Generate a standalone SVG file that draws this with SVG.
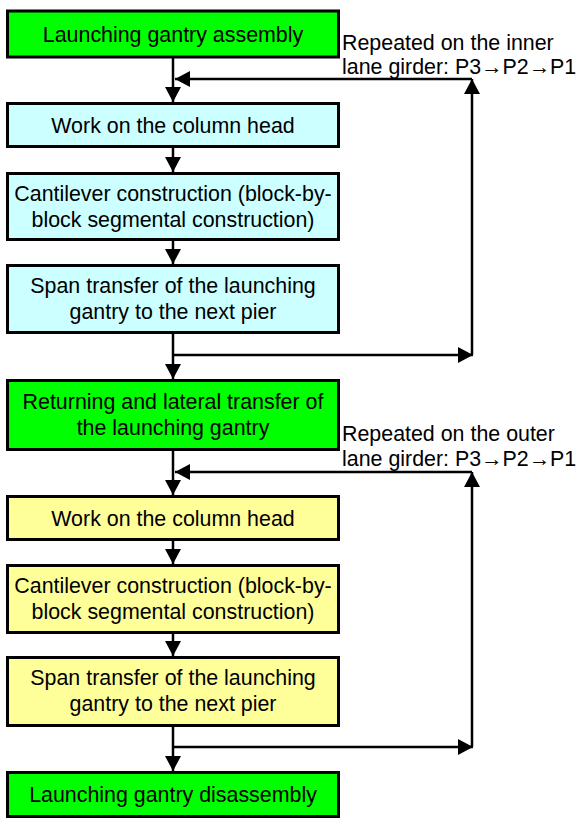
<svg xmlns="http://www.w3.org/2000/svg" width="577" height="819" viewBox="0 0 577 819">
  <style>
    .box { stroke: #000; stroke-width: 3; }
    .green { fill: #00ff00; }
    .cyan { fill: #ccffff; }
    .yellow { fill: #ffff99; }
    text { font-family: "Liberation Sans", Arial, "DejaVu Sans", sans-serif; font-size: 21.4px; fill: #000; }
    .c { text-anchor: middle; }
    .flow { fill: none; stroke: #000; stroke-width: 2.5; }
  </style>
  <defs>
    <marker id="arrow" markerUnits="userSpaceOnUse" markerWidth="16" markerHeight="16" refX="15" refY="8" orient="auto">
      <path d="M0,0 L15,8 L0,16 Z" fill="#000"/>
    </marker>
  </defs>
  <rect width="577" height="819" fill="#fff"/>

  <g id="connectors">
    <!-- main downward flow, first cycle -->
    <path class="flow" d="M173,58 V102" marker-end="url(#arrow)"/>
    <path class="flow" d="M173,148 V172" marker-end="url(#arrow)"/>
    <path class="flow" d="M173,241 V264" marker-end="url(#arrow)"/>
    <path class="flow" d="M173,334 V379" marker-end="url(#arrow)"/>
    <!-- repeat loop, inner lane girder -->
    <path class="flow" d="M173,355 H473" marker-end="url(#arrow)"/>
    <path class="flow" d="M472,355 V79" marker-end="url(#arrow)"/>
    <path class="flow" d="M472,79 H175" marker-end="url(#arrow)"/>
    <!-- main downward flow, second cycle -->
    <path class="flow" d="M173,451 V495" marker-end="url(#arrow)"/>
    <path class="flow" d="M173,541 V564" marker-end="url(#arrow)"/>
    <path class="flow" d="M173,634 V656" marker-end="url(#arrow)"/>
    <path class="flow" d="M173,727 V771" marker-end="url(#arrow)"/>
    <!-- repeat loop, outer lane girder -->
    <path class="flow" d="M173,747 H473" marker-end="url(#arrow)"/>
    <path class="flow" d="M472,747 V472" marker-end="url(#arrow)"/>
    <path class="flow" d="M472,472 H175" marker-end="url(#arrow)"/>
  </g>

  <g id="label-inner">
    <text x="342" y="50">Repeated on the inner</text>
    <text x="342" y="74">lane girder: P3→P2→P1</text>
  </g>
  <g id="label-outer">
    <text x="342" y="441">Repeated on the outer</text>
    <text x="342" y="466">lane girder: P3→P2→P1</text>
  </g>

  <g id="assembly">
    <rect class="box green" x="7.5" y="11" width="331" height="46"/>
    <text class="c" x="173" y="41.5">Launching gantry assembly</text>
  </g>
  <g id="column-head-1">
    <rect class="box cyan" x="7.5" y="103.5" width="331" height="43"/>
    <text class="c" x="173" y="132.5">Work on the column head</text>
  </g>
  <g id="cantilever-1">
    <rect class="box cyan" x="7.5" y="173.5" width="331" height="66"/>
    <text class="c" x="173" y="201">Cantilever construction (block-by-</text>
    <text class="c" x="173" y="227">block segmental construction)</text>
  </g>
  <g id="span-transfer-1">
    <rect class="box cyan" x="7.5" y="265.5" width="331" height="67"/>
    <text class="c" x="173" y="293">Span transfer of the launching</text>
    <text class="c" x="173" y="319">gantry to the next pier</text>
  </g>
  <g id="lateral-transfer">
    <rect class="box green" x="7.5" y="380.5" width="331" height="69"/>
    <text class="c" x="173" y="409">Returning and lateral transfer of</text>
    <text class="c" x="173" y="435">the launching gantry</text>
  </g>
  <g id="column-head-2">
    <rect class="box yellow" x="7.5" y="496.5" width="331" height="43"/>
    <text class="c" x="173" y="525.5">Work on the column head</text>
  </g>
  <g id="cantilever-2">
    <rect class="box yellow" x="7.5" y="565.5" width="331" height="67"/>
    <text class="c" x="173" y="593">Cantilever construction (block-by-</text>
    <text class="c" x="173" y="619">block segmental construction)</text>
  </g>
  <g id="span-transfer-2">
    <rect class="box yellow" x="7.5" y="657.5" width="331" height="68"/>
    <text class="c" x="173" y="685">Span transfer of the launching</text>
    <text class="c" x="173" y="711">gantry to the next pier</text>
  </g>
  <g id="disassembly">
    <rect class="box green" x="7.5" y="772.5" width="331" height="44"/>
    <text class="c" x="173" y="802">Launching gantry disassembly</text>
  </g>
</svg>
